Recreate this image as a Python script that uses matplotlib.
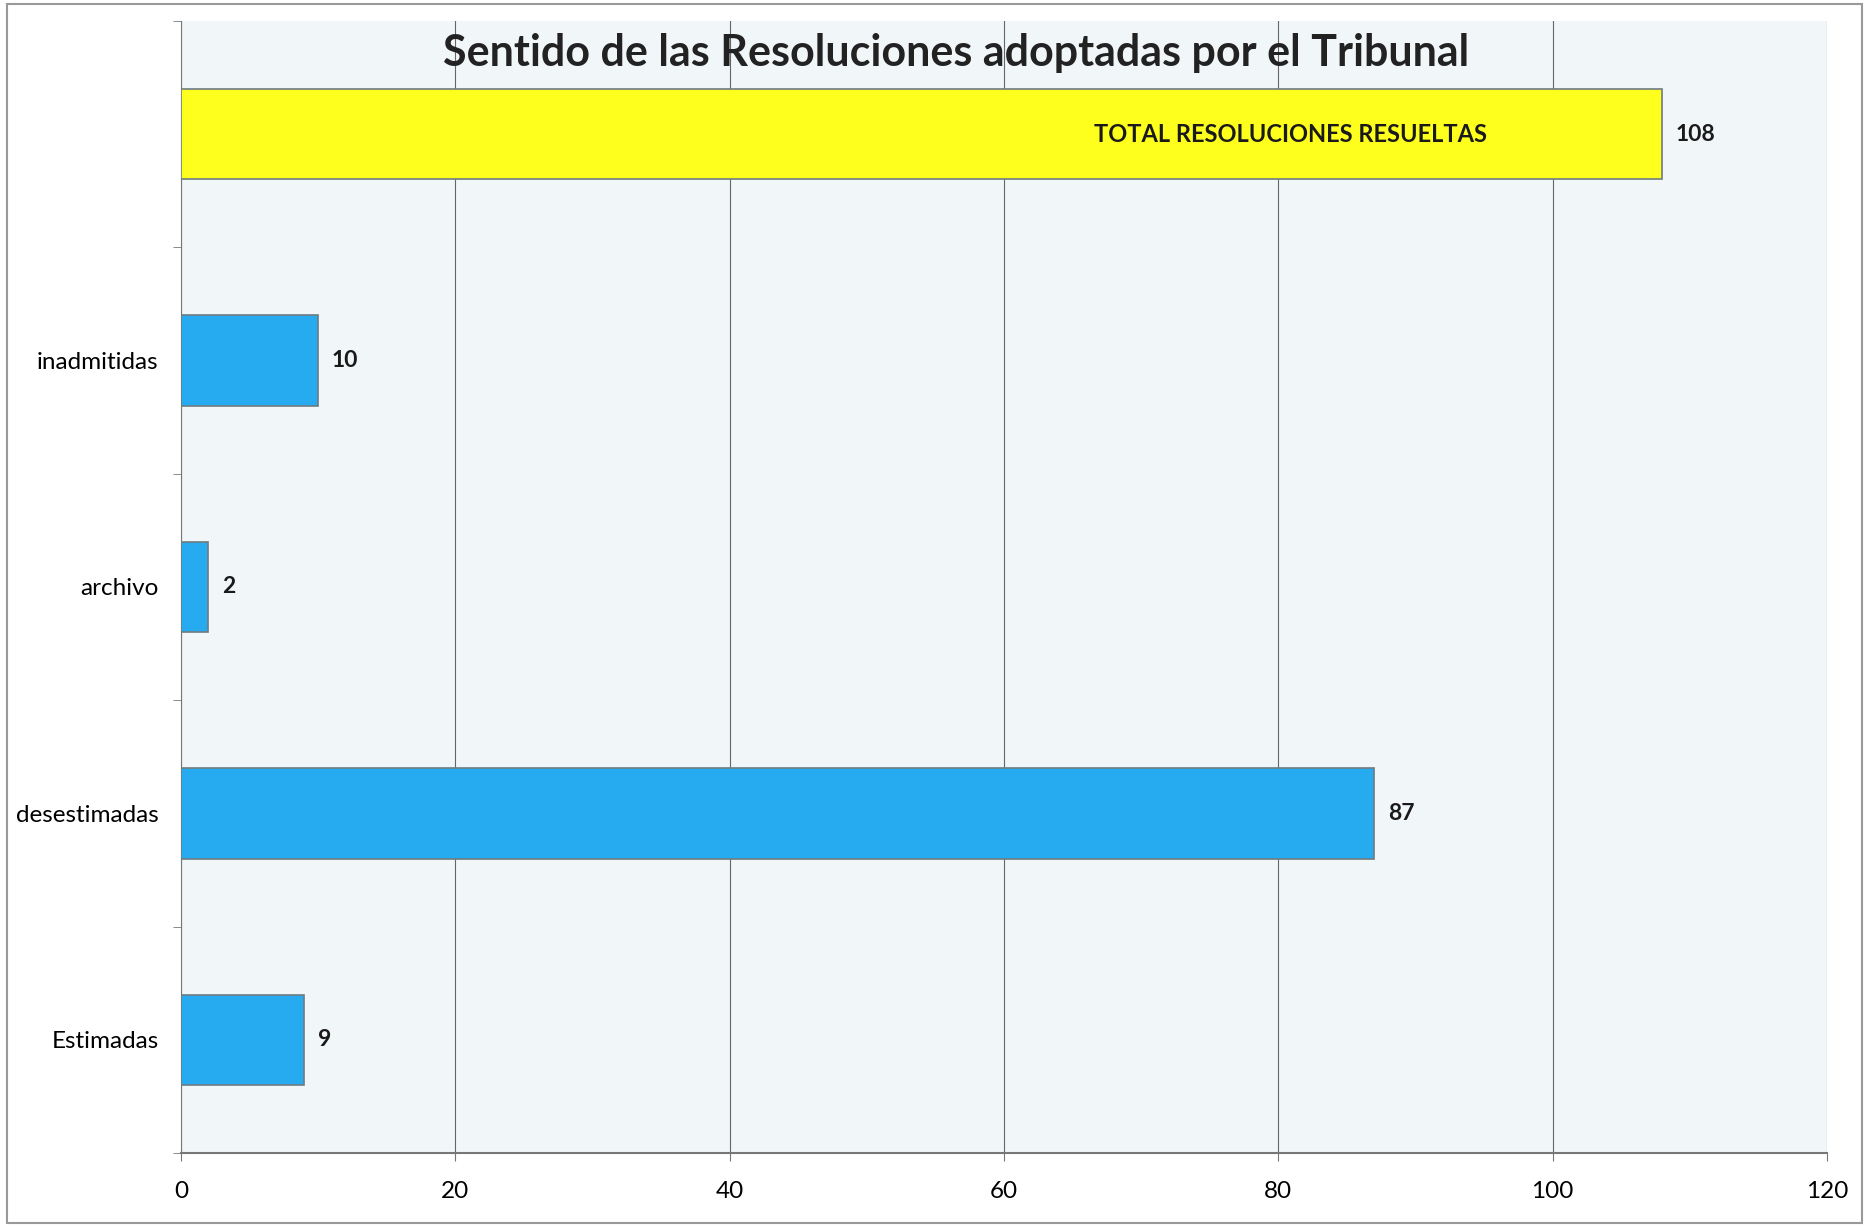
import numpy as np
import matplotlib.pyplot as plt

# bars from bottom to top
categories = ['Estimadas', 'desestimadas', 'archivo', 'inadmitidas', '']
values = [9, 87, 2, 10, 108]
colors = ['#26abf1', '#26abf1', '#26abf1', '#26abf1', '#ffff1e']
total_label = 'TOTAL RESOLUCIONES RESUELTAS'
xticks = [0, 20, 40, 60, 80, 100, 120]

plt.rcParams['font.family'] = ['Lato', 'DejaVu Sans']

fig = plt.figure(figsize=(18.69, 12.27), dpi=100)
ax = fig.add_axes([0.0968, 0.0603, 0.8807, 0.9227])
ax.set_facecolor('#f1f7f9')

y = np.arange(len(categories))
ax.barh(y, values, height=0.4, color=colors, edgecolor='#6e7b80', linewidth=1.2, zorder=3)

for yi, v in zip(y, values):
    ax.text(v + 1.0, yi, str(v), va='center', ha='left', fontsize=16.5, fontweight='bold', color='#1a1a1a')

ax.text(80.9, y[-1], total_label, va='center', ha='center', fontsize=17,
        fontweight='bold', color='#1a1a1a', zorder=4)

ax.set_xlim(0, 120)
ax.set_ylim(-0.5, len(categories) - 0.5)
ax.set_xticks(xticks)
ax.set_xticklabels([str(t) for t in xticks], fontsize=17.5)
ax.set_yticks(y)
ax.set_yticklabels(categories, fontsize=17.5)
ax.tick_params(axis='y', length=0, pad=16)
ax.set_yticks(np.arange(-0.5, len(categories)), minor=True)
ax.tick_params(axis='y', which='minor', length=6, color='#777777')
ax.tick_params(axis='x', length=6, color='#777777', pad=14)

ax.grid(axis='x', color='#666666', linewidth=0.8, zorder=1)
for side in ['top', 'right']:
    ax.spines[side].set_visible(False)
ax.spines['left'].set_color('#777777')
ax.spines['bottom'].set_color('#777777')
ax.spines['bottom'].set_linewidth(1.5)

ax.text(0.471, 0.972, 'Sentido de las Resoluciones adoptadas por el Tribunal',
        transform=ax.transAxes, ha='center', va='center', fontsize=31,
        fontweight='bold', color='#222222', zorder=5)

# outer frame
fig.patches.append(plt.Rectangle((0.004, 0.003), 0.992, 0.994, transform=fig.transFigure,
                                 fill=False, edgecolor='#999999', linewidth=1.5))

fig.savefig('out.png', dpi=100)
